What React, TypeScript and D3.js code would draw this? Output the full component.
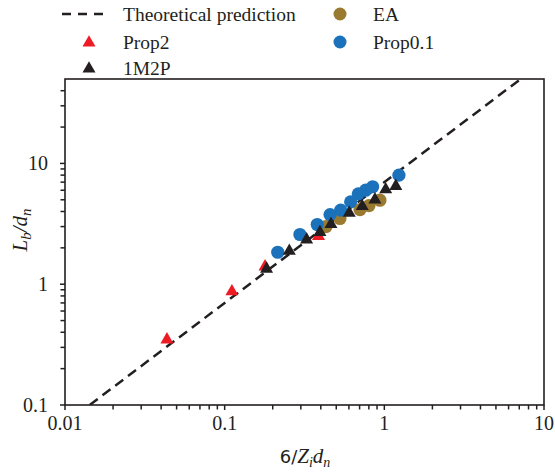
import React from "react";
import * as d3 from "d3";

// ---- data ----
const prop2X = [0.0435, 0.111, 0.179, 0.387];
const prop2Y = [0.353, 0.883, 1.42, 2.53];

const m2pX = [0.183, 0.254, 0.326, 0.395, 0.463, 0.603, 0.727, 0.873, 1.02, 1.18];
const m2pY = [1.36, 1.91, 2.37, 2.73, 3.18, 3.94, 4.48, 5.09, 6.17, 6.57];

const eaX = [0.431, 0.527, 0.704, 0.801, 0.938];
const eaY = [3.0, 3.5, 4.15, 4.48, 4.96];

const prop01X = [0.215, 0.296, 0.38, 0.457, 0.533, 0.615, 0.687, 0.764, 0.845, 1.234];
const prop01Y = [1.84, 2.58, 3.12, 3.77, 4.1, 4.81, 5.6, 6.0, 6.41, 8.0];

const theoryK = 7; // L/d = 7 * (6/Z d)

const xTicks = [0.01, 0.1, 1, 10];
const xTickLabels = ["0.01", "0.1", "1", "10"];
const yTicks = [0.1, 1, 10];
const yTickLabels = ["0.1", "1", "10"];

const W = 555;
const H = 474;
const left = 65, right = 544, top = 79, bottom = 405;

const COLORS = {
  red: "#ed1c24",
  black: "#231f20",
  gold: "#9a7a30",
  blue: "#1b72bb",
};

function tri(cx: number, cy: number, s = 13) {
  const h = s * 0.88;
  return `M${cx},${cy - h * 0.6}L${cx + s / 2},${cy + h * 0.4}L${cx - s / 2},${cy + h * 0.4}Z`;
}

export default function App() {
  const x = d3.scaleLog().domain([0.01, 10]).range([left, right]);
  const y = d3.scaleLog().domain([0.1, 50]).range([bottom, top]);

  const xMinor: number[] = [];
  for (let d = 0.01; d < 10; d *= 10) {
    for (let k = 2; k <= 9; k++) xMinor.push(d * k);
  }
  const yMinor: number[] = [];
  for (let d = 0.1; d < 50; d *= 10) {
    for (let k = 2; k <= 9; k++) if (d * k < 50) yMinor.push(d * k);
  }

  const x0 = 0.1 / theoryK;
  const x1 = 50 / theoryK;
  const line = d3
    .line<number>()
    .x((v) => x(v))
    .y((v) => y(v * theoryK));

  const serif = "'Liberation Serif', 'Times New Roman', serif";
  const fs = 20;
  const r1 = 14, r2 = 42, r3 = 68;

  return (
    <svg width={W} height={H} style={{ position: "absolute", left: 0, top: 0 }}>
      <rect width={W} height={H} fill="#fff" />
      <defs>
        <clipPath id="plot">
          <rect x={left} y={top} width={right - left} height={bottom - top} />
        </clipPath>
      </defs>

      {/* legend */}
      <g fontFamily={serif} fontSize={19.5} fill="#231f20">
        <line x1={62} x2={107} y1={r1} y2={r1} stroke="#231f20" strokeWidth={2.5} strokeDasharray="9,7" />
        <text x={123} y={r1 + 6.5}>Theoretical prediction</text>
        <path d={tri(89, r2, 13)} fill={COLORS.red} />
        <text x={123} y={r2 + 6.5}>Prop2</text>
        <path d={tri(89, r3, 13)} fill={COLORS.black} />
        <text x={123} y={r3 + 6.5}>1M2P</text>
        <circle cx={340} cy={r1} r={6.5} fill={COLORS.gold} />
        <text x={373} y={r1 + 6.5}>EA</text>
        <circle cx={340} cy={r2} r={6.5} fill={COLORS.blue} />
        <text x={373} y={r2 + 6.5}>Prop0.1</text>
      </g>

      {/* theoretical line */}
      <g clipPath="url(#plot)">
        <path
          d={line([x0, x1]) || ""}
          fill="none"
          stroke="#231f20"
          strokeWidth={2.5}
          strokeDasharray="10,6"
        />
      </g>

      {/* data */}
      <g>
        {prop2X.map((v, i) => (
          <path key={"r" + i} d={tri(x(v), y(prop2Y[i]), 13)} fill={COLORS.red} />
        ))}
        {eaX.map((v, i) => (
          <circle key={"g" + i} cx={x(v)} cy={y(eaY[i])} r={6.6} fill={COLORS.gold} />
        ))}
        {prop01X.map((v, i) => (
          <circle key={"b" + i} cx={x(v)} cy={y(prop01Y[i])} r={6.6} fill={COLORS.blue} />
        ))}
        {m2pX.map((v, i) => (
          <path key={"k" + i} d={tri(x(v), y(m2pY[i]), 13)} fill={COLORS.black} />
        ))}
      </g>

      {/* frame */}
      <rect x={left} y={top} width={right - left} height={bottom - top} fill="none" stroke="#231f20" strokeWidth={1.6} />

      {/* ticks */}
      <g stroke="#231f20" strokeWidth={1.5}>
        {xTicks.map((t) => (
          <line key={"xt" + t} x1={x(t)} x2={x(t)} y1={bottom} y2={bottom + 5} />
        ))}
        {xMinor.map((t, i) => (
          <line key={"xm" + i} x1={x(t)} x2={x(t)} y1={bottom} y2={bottom + 4.5} />
        ))}
        {yTicks.map((t) => (
          <line key={"yt" + t} x1={left - 5} x2={left} y1={y(t)} y2={y(t)} />
        ))}
        {yMinor.map((t, i) => (
          <line key={"ym" + i} x1={left - 4.5} x2={left} y1={y(t)} y2={y(t)} />
        ))}
      </g>

      <g fontFamily={serif} fontSize={fs} fill="#231f20">
        {xTicks.map((t, i) => (
          <text key={"xl" + t} x={x(t)} y={bottom + 25} textAnchor="middle">
            {xTickLabels[i]}
          </text>
        ))}
        {yTicks.map((t, i) => (
          <text key={"yl" + t} x={left - 17} y={y(t) + 7} textAnchor="end">
            {yTickLabels[i]}
          </text>
        ))}
      </g>

      {/* x title */}
      <text x={305} y={463} textAnchor="middle" fontSize={21} fill="#231f20">
        <tspan fontFamily="'DejaVu Sans', sans-serif" fontSize={18}>6/</tspan>
        <tspan fontFamily={serif} fontStyle="italic">Z</tspan>
        <tspan fontFamily={serif} fontStyle="italic" fontSize={14} dy={4}>i</tspan>
        <tspan fontFamily={serif} fontStyle="italic" dy={-4}>d</tspan>
        <tspan fontFamily={serif} fontStyle="italic" fontSize={14} dy={4}>n</tspan>
      </text>

      {/* y title */}
      <text
        transform={`translate(27,230) rotate(-90)`}
        textAnchor="middle"
        fontFamily={serif}
        fontStyle="italic"
        fontSize={21}
        fill="#231f20"
      >
        <tspan>L</tspan>
        <tspan fontSize={15} dy={4}>b</tspan>
        <tspan dy={-4}>/d</tspan>
        <tspan fontSize={15} dy={4}>n</tspan>
      </text>
    </svg>
  );
}
